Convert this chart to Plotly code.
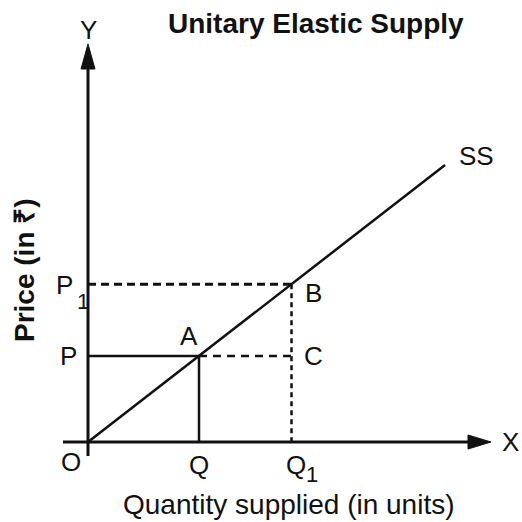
import plotly.graph_objects as go

# ---- data (economic units; supply line through origin => unitary elasticity) ----
quantities = [6, 11]          # Q, Q1
prices = [6, 11]              # P, P1
ss_end = 19.3                 # end of SS curve (quantity)
point_labels = ["A", "B", "C"]
qty_labels = ["Q", "Q"]
price_labels = ["P", "P"]
sub_label = "1"

# ---- layout geometry ----
W = H = 522
ox, oy = 88, 442              # origin pixel
ux, uy = 18.5, 14.35          # pixels per unit
xr = [-ox / ux, (W - ox) / ux]
yr = [-(H - oy) / uy, oy / uy]

def px(xp):
    return (xp - ox) / ux

def py(yp):
    return (oy - yp) / uy

def dx(d):
    return d / ux

def dy(d):
    return -d / uy

INK = "#111111"
FONT = "Liberation Sans, Arial, sans-serif"

fig = go.Figure()

# Supply curve SS
fig.add_trace(go.Scatter(x=[0, ss_end], y=[0, ss_end], mode="lines",
                         line=dict(color=INK, width=2.5), hoverinfo="skip"))

qA, qB = quantities
pA, pB = prices

# Solid lines from A to axes
fig.add_trace(go.Scatter(x=[0, qA, qA], y=[pA, pA, 0], mode="lines",
                         line=dict(color=INK, width=2.5), hoverinfo="skip"))
# Dashed P1 -> B
fig.add_trace(go.Scatter(x=[0, qB], y=[pB, pB], mode="lines",
                         line=dict(color=INK, width=3, dash="8px,5px"), hoverinfo="skip"))
# Dashed A -> C
fig.add_trace(go.Scatter(x=[qA, qB], y=[pA, pA], mode="lines",
                         line=dict(color=INK, width=2.5, dash="8px,6px"), hoverinfo="skip"))
# Dotted B -> Q1
fig.add_trace(go.Scatter(x=[qB, qB], y=[pB, 0], mode="lines",
                         line=dict(color=INK, width=2.5, dash="5px,4px"), hoverinfo="skip"))

shapes = []
# axes lines
shapes.append(dict(type="line", x0=0, x1=0, y0=py(456), y1=py(62),
                   line=dict(color=INK, width=3)))
shapes.append(dict(type="line", x0=px(63), x1=px(474), y0=0, y1=0,
                   line=dict(color=INK, width=3)))
# arrow heads
shapes.append(dict(type="path",
                   path=f"M {px(81)},{py(69)} L 0,{py(44)} L {px(95)},{py(69)} Z",
                   fillcolor=INK, line=dict(color=INK, width=1)))
shapes.append(dict(type="path",
                   path=f"M {px(468)},{py(435)} L {px(491)},0 L {px(468)},{py(449)} Z",
                   fillcolor=INK, line=dict(color=INK, width=1)))

ann = []
def lab(x, y, t, size=26, bold=False, angle=0):
    ann.append(dict(x=x, y=y, text=f"<b>{t}</b>" if bold else t, showarrow=False,
                    textangle=angle, xanchor="center", yanchor="middle",
                    font=dict(family=FONT, size=size, color=INK)))

lab(0, py(30), "Y")
lab(px(510), 0, "X")
lab(px(476), py(156), "SS")
lab(qA + dx(-10), pA + dy(-20), point_labels[0])
lab(qB + dx(22), pB + dy(9), point_labels[1])
lab(qB + dx(22), pA, point_labels[2])
lab(px(68), pA, price_labels[0])
lab(px(64), pB + dy(1), price_labels[1])
lab(px(83), pB + dy(17), sub_label, size=22)
lab(px(71), py(462), "O")
lab(qA, py(465), qty_labels[0])
lab(qB + dx(4), py(465), qty_labels[1])
lab(qB + dx(20), py(474), sub_label, size=22)

lab(px(289), py(504), "Quantity supplied (in units)", size=28)
lab(px(24), py(270), "Price (in ₹)", size=28, bold=True, angle=-90)
lab(px(316), py(23), "Unitary Elastic Supply", size=28, bold=True)

fig.update_layout(
    width=W, height=H,
    margin=dict(l=0, r=0, t=0, b=0),
    paper_bgcolor="white", plot_bgcolor="white",
    showlegend=False,
    xaxis=dict(range=xr, visible=False, fixedrange=True),
    yaxis=dict(range=yr, visible=False, fixedrange=True),
    shapes=shapes, annotations=ann,
)

fig.write_html("out.html", config={"displayModeBar": False},
               post_script="document.body.style.margin='0';")
